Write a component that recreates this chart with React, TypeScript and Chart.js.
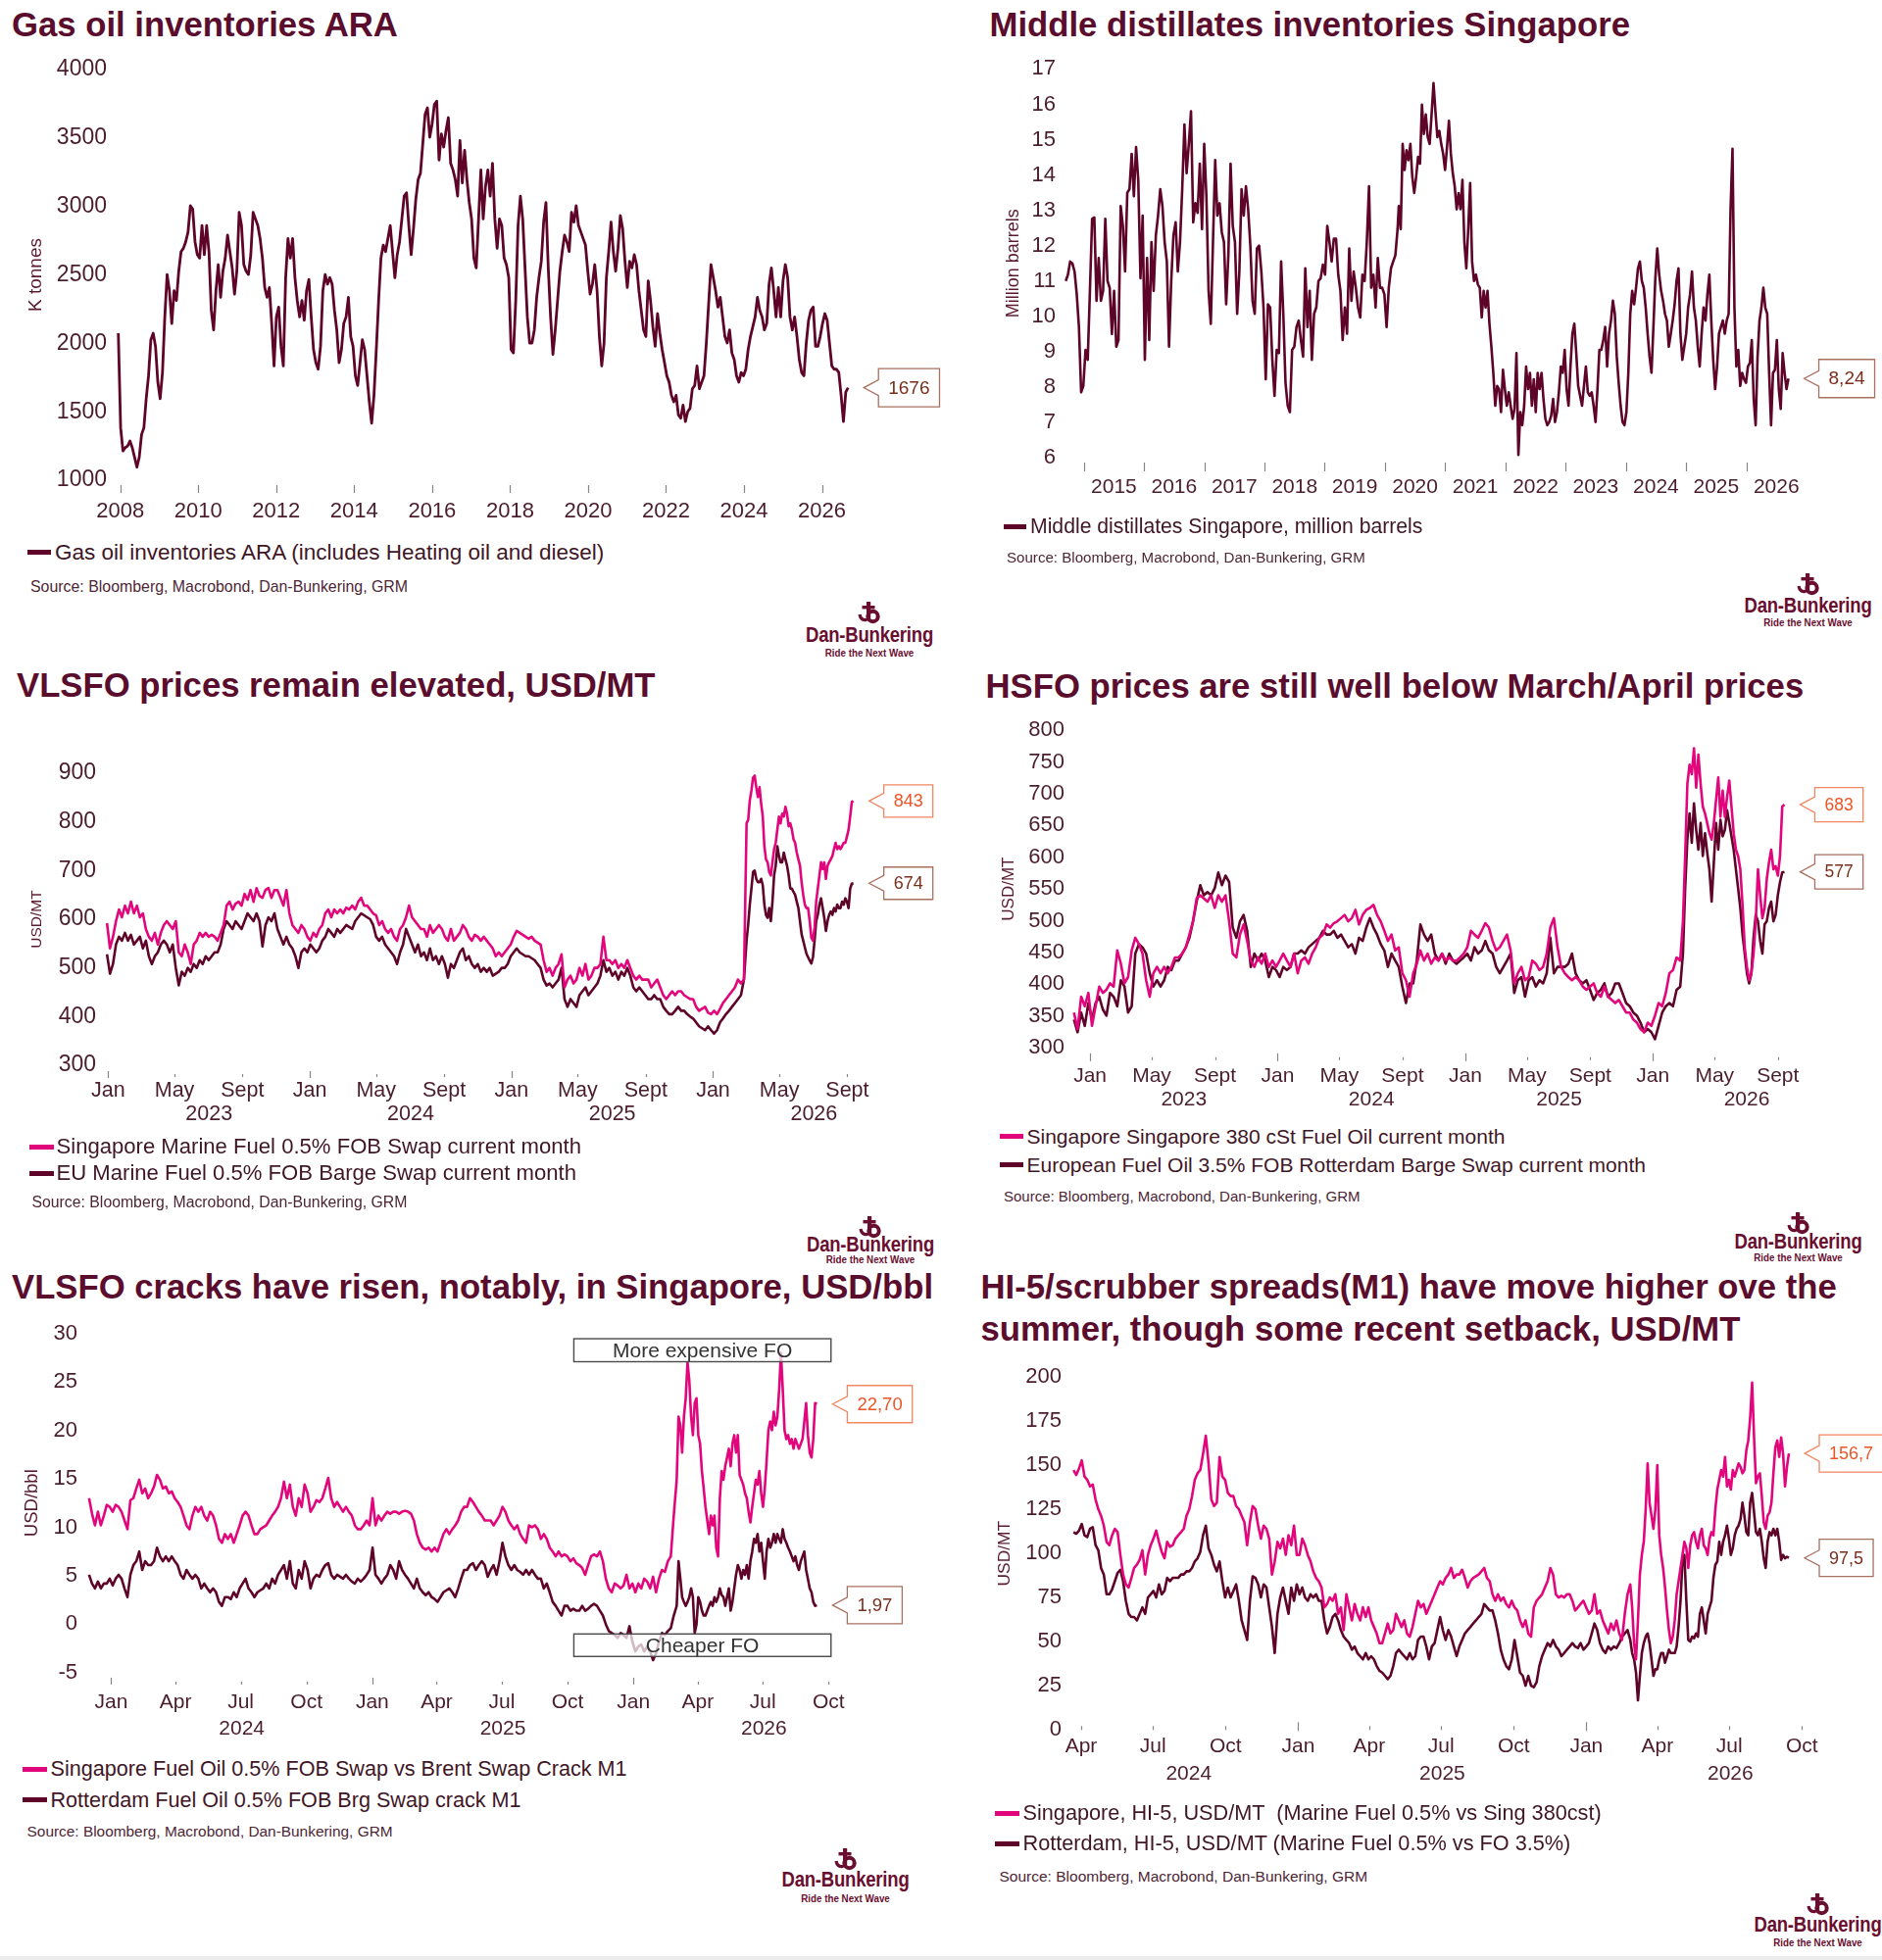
import React, { useEffect, useRef } from "react";
import { Chart, registerables } from "chart.js";

Chart.register(...registerables);

const FONT = "'Liberation Sans', Arial, Helvetica, sans-serif";
const MAROON = "#5e0428";
const PINK = "#e2067c";
const TITLE_C = "#5a0d2c";
const TICK_C = "#4a1d2d";
const AXIS_TITLE_C = "#5a1a30";
const LEGEND_C = "#3f1626";
const SOURCE_C = "#4d2635";
const LOGO_C = "#6a0e30";
const MARK_C = "#858585";
const LBL_MAROON = { text: "#7a2f1d", border: "#a9705f" };
const LBL_PINK = { text: "#ee5425", border: "#f28660" };

// ---------------- DATA ----------------
// Gas oil inventories ARA, K tonnes (2008 -> Sep 2026)
const araGasOil = [
  2074,1382,1214,1238,1250,1286,1238,1167,1095,1167,
  1334,1382,1596,1763,2026,2074,1978,1716,1596,1787,
  2193,2503,2384,2145,2384,2312,2527,2670,2694,2742,
  2814,3005,2981,2742,2647,2623,2861,2647,2861,2670,
  2241,2098,2384,2575,2336,2527,2623,2790,2670,2551,
  2360,2527,2957,2861,2575,2527,2503,2647,2957,2909,
  2861,2766,2623,2408,2336,2408,2145,1835,
  2193,2265,1978,1835,2480,2766,2623,2766,2480,2312,
  2193,2312,2169,2384,2467,2193,1954,1859,1811,1978,
  2384,2503,2432,2480,2432,2241,2098,1859,1954,2145,
  2193,2336,2050,1978,1763,1692,1859,2026,1954,1763,
  1572,1417,1620,1954,2312,2623,2718,2670,2766,2861,
  2670,2480,2647,2742,2909,3076,3100,2861,2647,2838,
  3052,3196,3243,3458,3673,3721,3506,3601,3745,3769,
  3339,3530,3434,3554,3649,3315,3267,3196,3076,3482,
  3172,3410,3196,3028,2909,2623,2551,2909,3267,2909,
  3148,3267,3076,3315,2909,2694,2909,2861,2623,2575,
  2480,1954,1930,2312,2861,3076,2909,2551,2193,2002,
  2002,2098,2336,2480,2599,2885,3028,2551,2193,1919,
  2098,2312,2527,2670,2790,2742,2670,2957,2885,3005,
  2861,2814,2766,2718,2527,2360,2432,2575,2384,2050,
  1835,2002,2480,2670,2885,2670,2527,2694,2933,2838,
  2599,2408,2599,2551,2647,2575,2384,2241,2098,2050,
  2456,2312,2121,1978,2217,2074,1954,1859,1763,1716,
  1620,1572,1620,1477,1453,1549,1429,1501,1525,1668,
  1692,1835,1668,1716,1763,2002,2289,2575,2480,2384,
  2265,2336,2193,2050,2002,2098,1930,1883,1763,1716,
  1787,1763,1811,1954,2050,2121,2193,2336,2241,2193,
  2098,2145,2432,2551,2384,2193,2408,2193,2456,2575,
  2480,2193,2098,2193,2050,1883,1787,1763,2002,2169,
  2241,2265,1978,1978,2050,2145,2217,2169,2002,1835,
  1811,1811,1787,1620,1429,1644,1676,
];
const araSpan = [2007.95, 2026.67];
const araYearTicks = [2008, 2010, 2012, 2014, 2016, 2018, 2020, 2022, 2024, 2026];
const araYTicks = [1000, 1500, 2000, 2500, 3000, 3500, 4000];

// Middle distillates Singapore, million barrels
const sgDistA = [
  11.0,11.18,11.55,11.5,11.27,10.63,9.7,7.85,8.03,9.05,
  8.77,10.72,12.76,12.8,10.44,11.65,10.44,10.72,12.76,11.0,
  10.8,9.5,10.72,9.14,9.33,13.12,12.56,11.27,13.5,13.6,
  14.6,13.4,14.79,13.86,11.08,12.85,8.77,11.65,9.33,12.1,
  10.72,12.29,12.85,13.6,13.12,12.1,11.55,9.14,11.0,12.29,
  12.66,11.27,12.1,13.6,15.43,14.05,14.88,15.8,12.66,13.2,
  12.93,14.32,12.47,14.88,13.4,10.72,9.79,12.1,14.42,12.85,
  13.2,12.38,12.1,10.34,11.73,14.32,12.56,12.1,10.07,11.27,
  13.6,12.85,13.68,13.03,12.0,10.44,10.07,11.92,12.0,11.27,
  10.25,8.22,10.34,10.25,8.77,7.75,9.05,8.96,11.55,10.07,
  8.12,7.47,7.29,9.05,9.14,9.7,9.88,9.33,8.86,11.36,
  9.7,10.72,8.77,10.07,10.25,11.0,11.08,11.46,11.18,12.56,
  12.1,11.55,12.2,12.2,11.18,10.72,9.33,10.25,9.51,11.92,
  10.44,11.27,10.81,10.25,9.97,11.18,11.0,12.1,13.68,10.81,
  11.18,10.25,11.65,10.81,10.81,10.62,9.7,10.81,11.36,11.55,
  11.73,12.47,
];
const sgDistASpan = [2014.70, 2020.21];
const sgDistB = [
  13.12,12.47,14.88,14.14,14.7,14.42,14.88,13.95,13.49,13.95,
  14.51,14.32,15.99,15.16,15.71,15.07,14.88,15.71,16.6,15.8,
  15.07,15.25,14.88,14.6,14.14,14.79,15.53,14.6,14.05,13.68,
  13.03,13.49,13.03,13.86,12.1,11.36,12.47,13.77,11.55,11.0,
  11.18,10.9,10.81,9.97,10.72,10.25,10.72,9.79,9.14,8.4,
  7.47,8.03,7.94,7.29,8.49,7.94,7.47,7.85,7.47,7.1,
  7.38,8.96,6.08,7.29,6.92,7.47,8.58,7.94,8.4,7.47,
  8.22,7.29,8.4,7.94,8.4,7.66,7.1,6.92,7.01,7.19,
  7.66,7.01,7.29,7.85,8.58,8.4,9.05,7.94,7.47,8.58,
  9.51,9.79,8.96,8.03,7.75,7.47,8.03,8.58,7.85,7.75,
  7.85,7.47,7.01,7.94,9.05,9.05,9.33,9.7,8.58,9.51,
  9.88,10.44,10.07,8.86,8.12,7.47,7.01,6.92,7.29,8.4,
  10.07,10.72,10.34,10.81,11.36,11.55,11.0,10.81,10.25,9.51,
  8.86,8.4,9.7,11.08,11.92,11.18,10.72,10.44,10.07,9.88,
  9.14,9.51,9.88,10.34,11.0,11.36,9.51,8.77,9.14,9.51,
  10.25,10.62,11.27,10.25,9.88,9.14,8.58,9.51,10.25,9.88,
  10.62,11.18,9.88,8.77,7.94,8.58,9.51,9.7,9.88,9.51,
  9.88,10.07,13.03,14.74,10.25,8.58,9.05,8.03,8.4,8.22,
  8.12,8.58,8.68,9.33,7.66,6.92,8.86,9.88,10.25,10.81,
  10.25,10.07,8.4,6.92,8.4,8.49,9.33,7.94,7.38,8.96,
  8.4,7.94,8.24,
];
const sgDistBSpan = [2020.23, 2026.70];
const sgYearBounds = [2015, 2016, 2017, 2018, 2019, 2020, 2021, 2022, 2023, 2024, 2025, 2026];
const sgYTicks = [6, 7, 8, 9, 10, 11, 12, 13, 14, 15, 16, 17];

// VLSFO prices USD/MT
const vlsfoSgA = [
  592,540,564,596,620,604,628,612,636,612,
  628,604,612,580,564,556,572,548,572,588,
  596,588,580,596,532,524,548,532,508,548,
  556,572,564,572,564,568,564,556,572,588,
  628,636,620,632,636,628,652,640,660,636,
  664,648,644,660,664,644,660,660,644,628,
  660,612,588,580,572,588,580,564,556,572,
  564,580,588,612,620,604,620,612,620,612,
  624,620,628,620,636,644,628,628,620,612,
  608,588,596,580,572,580,564,556,580,588,
  604,628,604,596,588,580,580,564,588,572,
  580,588,580,564,556,580,556,564,572,588,
  580,564,556,568,564,556,564,556,548,540,
  524,532,524,532,540,548,564,576,572,568,
  564,560,564,556,552,548,516,492,500,484,
  500,508,528,460,476,484,468,476,500,484,
  508,476,484,500,500,508,564,516,516,508,
  516,500,508,500,516,500,484,476,484,476,
  476,476,460,468,476,460,444,436,444,452,
  444,452,452,444,440,436,436,420,412,416,
  420,408,405,412,405,416,428,436,444,452,
  460,476,468,476,
];
const vlsfoSgB = [
  797,804,844,864,891,895,871,851,871,838,
  811,750,723,717,697,690,717,744,757,784,
  811,797,817,811,831,817,791,797,784,764,
  757,737,723,710,676,650,630,623,623,596,
  562,556,583,636,663,690,717,703,717,683,
  710,717,723,730,744,757,744,750,744,750,
  757,757,770,784,811,841,843,
];
const vlsfoEuA = [
  528,488,508,548,564,556,572,556,568,548,
  556,564,540,556,524,508,524,532,548,556,
  548,532,548,500,464,492,484,500,492,508,
  500,516,508,524,516,524,532,532,548,580,
  596,588,580,596,588,580,596,612,604,596,
  612,596,544,588,604,596,612,580,564,548,
  564,548,540,524,500,532,540,532,548,540,
  532,540,556,564,580,572,564,580,572,580,
  588,584,580,596,604,612,608,604,600,588,
  564,556,564,548,540,532,524,508,532,548,
  580,564,548,532,548,524,532,516,540,516,
  524,508,524,508,480,508,500,516,532,540,
  516,524,508,500,508,492,500,492,500,484,
  488,492,500,500,508,524,532,540,532,528,
  524,524,520,516,508,500,476,464,468,460,
  468,476,500,436,420,436,428,420,444,452,
  460,444,452,460,468,484,516,492,500,484,
  492,476,492,484,500,484,460,452,460,452,
  444,436,436,444,436,436,420,412,405,405,
  412,420,412,412,405,400,396,388,380,376,
  372,380,372,365,372,388,396,405,412,420,
  428,436,444,476,
];
const vlsfoEuB = [
  556,589,630,663,697,700,683,676,676,683,
  670,630,609,603,623,596,636,690,710,750,
  730,717,717,737,723,710,690,663,663,656,
  650,636,623,596,569,556,542,529,522,515,
  509,522,556,596,609,630,643,623,603,576,
  596,609,616,609,623,616,630,623,623,636,
  630,643,636,623,663,673,674,
];
const vlsfoSpanA = [2022.994, 2026.153];
const vlsfoSpanB = [2026.166, 2026.696];
const vlsfoYears = [2023, 2024, 2025, 2026];
const vlsfoMonths: [number, string][] = [[1, "Jan"], [5, "May"], [9, "Sept"]];
const vlsfoYTicks = [300, 400, 500, 600, 700, 800, 900];

// HSFO prices USD/MT
const hsfoSgA = [
  355,329,380,365,386,334,365,396,386,391,
  401,396,453,432,401,411,453,473,463,448,
  406,380,417,427,417,427,417,427,442,442,
  448,458,478,499,535,540,535,530,540,520,
  540,530,540,499,448,442,478,494,468,437,
  427,442,432,448,427,437,427,437,448,437,
  427,448,417,437,442,432,448,458,473,478,
  494,489,496,499,504,509,499,504,517,494,
  509,517,520,525,509,499,484,468,478,453,
  458,417,406,380,417,432,453,437,448,432,
  442,437,448,437,442,437,437,442,448,458,
  484,478,473,484,496,489,468,453,458,468,
  478,453,401,417,427,406,411,437,432,422,
  427,448,489,504,458,427,417,411,406,411,
  406,396,391,396,401,386,380,396,380,375,
  370,375,365,355,355,344,339,329,324,339,
  334,350,370,365,386,417,422,442,437,
];
const hsfoSgB = [
  499,602,716,746,731,772,710,762,716,680,
  669,654,638,628,654,690,726,664,705,664,
  695,721,680,638,612,602,581,525,458,427,
  406,417,448,499,581,540,504,520,566,592,
  612,581,586,571,602,680,683,
];
const hsfoEuA = [
  344,324,355,334,370,344,370,380,360,350,
  386,380,365,406,396,355,365,448,463,458,
  448,417,396,406,396,406,427,422,437,437,
  448,458,473,499,530,556,540,545,540,551,
  576,556,571,561,489,473,499,509,484,427,
  448,437,448,437,411,427,422,411,427,422,
  427,448,448,453,448,458,463,468,473,484,
  478,478,484,473,478,468,458,463,448,473,
  468,489,504,489,478,463,453,427,448,437,
  427,396,370,401,401,437,494,478,468,478,
  448,437,448,432,448,437,432,437,442,448,
  437,458,448,453,468,453,448,427,417,427,
  437,448,386,406,411,380,406,411,396,406,
  401,417,473,417,427,427,427,432,448,417,
  406,401,406,391,375,386,391,401,380,386,
  401,401,386,370,365,355,350,339,324,329,
  324,313,334,355,365,370,365,391,396,
];
const hsfoEuB = [
  448,551,628,669,623,685,643,612,654,602,
  638,607,581,530,592,654,612,659,633,643,
  674,654,633,612,581,551,520,478,448,417,
  401,417,473,509,499,468,448,494,499,520,
  530,499,509,540,561,576,577,
];
const hsfoSpanA = [2022.914, 2026.1455];
const hsfoSpanB = [2026.160, 2026.701];
const hsfoYTicks = [300, 350, 400, 450, 500, 550, 600, 650, 700, 750, 800];

// VLSFO cracks USD/bbl
const crackSgA = [
  13.0,11.4,10.2,11.6,10.2,11.2,12.3,12.1,11.6,12.3,
  12.1,11.6,10.7,9.8,12.8,13.0,14.0,14.9,13.5,14.0,
  13.0,13.5,14.2,15.4,14.9,14.0,14.2,13.5,13.7,13.0,
  12.6,12.1,11.2,10.2,9.8,11.2,12.1,11.6,12.1,11.2,
  10.7,11.6,11.2,10.2,8.8,8.4,9.3,8.8,9.3,8.4,
  9.3,10.2,11.2,11.6,11.2,10.2,9.3,9.3,9.8,10.0,
  10.2,10.7,11.2,11.6,12.1,13.0,14.7,13.0,14.4,12.1,
  11.2,13.0,12.1,14.4,13.5,11.6,12.1,12.8,12.6,13.0,
  14.0,15.1,13.0,12.1,12.6,12.1,11.6,12.1,11.6,11.2,
  10.2,9.8,9.8,10.2,10.7,10.2,13.0,10.2,11.2,10.7,
  11.2,11.6,11.4,11.6,11.6,11.4,11.6,11.7,11.6,11.4,
  10.7,9.3,8.4,7.9,7.7,7.9,7.5,7.9,7.5,8.4,
  9.3,9.8,9.3,9.8,10.2,10.7,11.6,12.1,12.1,13.0,
  12.6,12.1,11.6,11.2,10.7,10.7,10.7,10.2,10.7,11.2,
  12.1,11.6,10.7,10.2,9.8,10.2,9.3,8.8,8.4,10.2,
  10.0,10.2,9.8,8.8,9.3,8.8,7.9,7.5,7.0,7.5,
  7.0,7.2,7.0,6.5,6.8,6.3,6.1,5.8,5.1,6.1,
  7.0,7.2,7.0,7.5,6.5,4.7,3.7,3.3,4.2,4.0,
  3.7,4.0,5.1,3.7,4.2,3.3,4.2,3.7,4.7,4.4,
  3.7,4.9,3.3,4.7,5.6,5.4,6.5,7.0,11.2,14.9,
];
const crackSgB = [
  21.4,20.5,17.7,21.4,23.3,27.0,25.1,21.4,19.5,22.8,
  23.3,19.5,18.6,15.8,14.0,12.1,10.7,9.3,11.2,10.2,
  11.2,7.9,7.0,13.0,15.8,14.9,16.3,17.2,18.1,16.3,
  18.6,19.5,17.7,19.5,15.4,14.9,14.4,13.5,13.0,11.6,
  10.5,12.1,13.5,14.9,14.4,15.8,13.5,12.1,14.0,16.8,
  20.0,20.9,20.0,21.9,20.5,21.4,24.2,28.0,24.2,20.0,
  19.1,19.5,18.6,19.1,18.1,19.1,18.6,18.1,18.6,19.1,
  20.9,22.8,19.5,17.7,17.2,19.1,22.8,22.7,
];
const crackRtA = [
  5.1,4.2,3.7,4.4,3.7,4.2,4.2,4.7,4.0,4.7,
  5.1,4.7,3.7,2.8,5.1,6.1,6.5,7.5,5.6,6.5,
  6.1,6.1,6.5,7.9,7.0,6.5,7.0,6.5,7.0,6.5,
  6.1,5.1,4.7,5.6,5.1,4.7,5.1,4.7,3.7,4.2,
  3.7,3.3,3.7,3.3,2.3,1.9,2.8,2.8,2.6,3.3,
  2.8,3.7,4.2,4.7,3.7,3.3,2.8,3.3,3.5,3.7,
  4.2,3.7,4.7,4.2,5.1,5.6,6.1,4.7,6.5,4.2,
  3.7,5.6,4.7,6.5,5.6,3.7,4.7,5.1,4.9,5.6,
  6.1,6.3,5.1,4.7,5.1,4.9,4.7,5.1,4.7,4.4,
  4.2,4.7,4.4,4.7,5.1,5.6,7.9,5.1,4.7,4.2,
  4.7,5.1,6.1,5.6,4.7,6.5,5.6,5.1,4.7,4.2,
  3.7,4.7,3.7,3.3,3.0,3.3,2.8,2.6,2.3,2.8,
  3.3,3.5,3.7,3.3,2.8,3.7,4.7,5.6,5.6,6.1,
  6.3,5.6,6.1,6.5,6.1,4.9,5.6,6.1,5.1,6.5,
  8.4,7.0,6.1,5.6,6.1,5.6,5.4,5.1,5.6,5.1,
  5.6,5.1,4.7,4.7,3.7,4.2,3.3,2.3,1.9,1.4,
  0.9,1.9,1.9,1.4,1.6,1.4,1.4,1.9,1.4,1.6,
  1.9,2.1,1.9,1.4,0.9,0.0,-0.7,-0.9,-1.1,-1.4,
  -0.9,-1.1,-1.4,-0.2,-1.8,-2.8,-2.3,-2.1,-2.8,-2.3,
  -2.8,-3.7,-3.0,-1.8,-0.9,-1.1,-0.7,-0.4,0.9,1.9,
];
const crackRtB = [
  6.5,4.7,2.8,2.3,1.9,2.3,2.8,3.7,2.8,-0.9,
  0.0,2.8,2.3,1.4,0.9,0.9,1.4,1.9,2.3,1.9,
  2.8,2.3,2.8,3.7,3.0,2.8,1.9,2.8,3.7,1.4,
  2.3,3.7,5.1,6.1,5.6,4.7,5.6,5.1,6.1,4.7,
  6.5,7.5,8.8,8.4,9.3,7.5,8.4,6.5,4.7,7.5,
  8.8,7.9,8.4,9.3,8.4,9.3,8.8,8.4,9.8,8.8,
  8.4,7.9,7.5,7.0,6.5,7.0,6.1,5.6,6.5,7.0,
  7.5,5.6,4.7,3.7,3.3,2.3,1.9,1.97,
];
const crackSpanA = [2023.915, 2026.166];
const crackSpanB = [2026.173, 2026.703];
const crackYears = [2024, 2025, 2026];
const crackMonths: [number, string][] = [[1, "Jan"], [4, "Apr"], [7, "Jul"], [10, "Oct"]];
const crackYTicks = [-5, 0, 5, 10, 15, 20, 25, 30];
const crackBoxes = [
  { x0: 2025.772, x1: 2026.757, y0: 29.44, y1: 27.07, text: "More expensive FO" },
  { x0: 2025.772, x1: 2026.757, y0: -1.0, y1: -3.32, text: "Cheaper FO" },
];

// HI-5 spreads USD/MT
const hi5SgA = [
  147.3,144.5,148.2,152.8,143.6,141.7,138.0,139.0,130.6,125.1,
  121.4,115.8,106.6,104.7,110.3,114.0,112.1,99.2,88.1,82.5,
  80.7,86.2,91.8,93.6,96.4,101.9,88.1,99.2,104.7,108.4,
  113.0,106.6,101.0,97.3,106.6,103.8,104.7,108.4,110.3,112.1,
  114.0,121.4,125.1,132.5,141.7,145.4,147.3,156.5,166.7,151.0,
  130.6,126.9,128.8,154.7,143.6,141.7,134.3,132.5,132.5,126.9,
  125.1,121.4,117.7,104.7,117.7,126.9,125.1,115.8,108.4,115.8,
  114.0,108.4,88.1,95.5,106.6,102.9,108.4,99.2,110.3,104.7,
  115.8,99.2,99.2,108.4,104.7,99.2,95.5,89.9,86.2,84.3,
  80.7,69.5,71.4,75.1,73.2,76.9,65.8,69.5,56.6,76.9,
  69.5,62.1,71.4,65.8,62.1,69.5,64.0,69.5,62.1,58.4,
  54.7,49.2,49.2,54.7,60.3,54.7,56.6,65.8,62.1,58.4,
  62.1,54.7,52.9,58.4,65.8,73.2,69.5,71.4,65.8,69.5,
  73.2,76.9,80.7,84.3,82.5,86.2,88.1,91.8,86.2,88.1,
  88.1,90.8,86.2,80.7,84.3,86.2,87.1,88.1,89.9,91.8,
  86.2,84.3,76.9,73.2,76.9,73.2,75.1,71.4,69.5,73.2,
  69.5,67.7,62.1,58.4,62.1,54.7,52.9,69.5,73.2,75.1,
  76.9,80.7,84.3,91.8,88.1,76.9,75.1,76.0,75.1,76.9,
  76.9,73.2,67.7,69.5,71.4,73.2,69.5,65.8,67.7,76.9,
  65.8,67.7,62.1,58.4,54.7,60.3,56.6,62.1,54.7,51.0,
  65.8,76.9,82.5,
];
const hi5SgB = [
  69.5,49.2,40.0,62.1,88.1,99.2,106.6,125.1,151.0,128.8,
  121.4,114.0,125.1,150.1,110.3,99.2,91.8,80.7,67.7,56.6,
  49.2,52.9,62.1,76.9,84.3,91.8,99.2,106.6,102.9,91.8,
  104.7,110.3,112.1,106.6,102.9,110.3,114.0,104.7,102.9,99.2,
  108.4,112.1,110.3,125.1,136.2,141.7,147.3,143.6,154.7,138.0,
  141.7,136.2,147.3,143.6,147.3,151.0,149.1,145.4,147.3,158.4,
  164.0,176.9,196.9,165.8,139.9,143.6,145.4,132.5,117.7,114.0,
  121.4,123.2,128.8,145.4,160.2,164.0,154.7,165.8,156.5,138.0,
  149.1,156.7,
];
const hi5RtA = [
  112.1,111.2,113.0,116.7,110.3,109.3,114.0,114.9,104.7,101.9,
  91.8,88.1,76.9,76.9,79.7,84.3,89.0,90.8,84.3,73.2,
  65.8,64.0,64.0,62.1,65.8,69.5,65.8,75.1,76.9,78.8,
  75.1,82.5,76.9,78.8,86.2,84.3,86.2,86.2,86.2,88.1,
  88.1,89.9,89.9,91.8,95.5,97.3,101.0,110.3,115.8,102.9,
  99.2,93.6,89.9,95.5,84.3,75.1,80.7,75.1,78.8,82.5,
  73.2,62.1,56.6,51.0,73.2,87.1,86.2,82.5,75.1,82.5,
  80.7,69.5,58.4,43.6,65.8,75.1,80.7,73.2,65.8,80.7,
  73.2,82.5,76.9,80.7,75.1,73.2,76.9,75.1,76.9,73.2,
  73.2,62.1,54.7,58.4,64.0,65.8,62.1,56.6,52.9,51.0,
  49.2,45.5,47.3,43.6,41.8,40.0,43.6,40.0,41.8,40.0,
  36.2,33.5,32.5,30.7,28.8,30.7,36.2,43.6,45.5,43.6,
  41.8,40.0,43.6,40.0,41.8,51.0,52.9,52.9,47.3,40.0,
  47.3,49.2,56.6,64.0,56.6,51.0,56.6,52.9,47.3,41.8,
  47.3,51.0,54.7,56.6,58.4,60.3,62.1,64.0,65.8,71.4,
  69.5,67.7,67.7,62.1,54.7,45.5,40.0,36.2,34.4,40.0,
  51.0,41.8,32.5,30.7,25.1,30.7,25.1,24.2,27.0,36.2,
  41.8,45.5,49.2,47.3,51.0,47.3,45.5,41.8,43.6,45.5,
  47.3,49.2,47.3,46.4,49.2,45.5,47.3,49.2,54.7,60.3,
  56.6,49.2,45.5,43.6,47.3,45.5,47.3,46.4,49.2,52.9,
  54.7,56.6,51.0,
];
const hi5RtB = [
  43.6,40.0,32.5,16.8,30.7,43.6,49.2,52.9,54.7,49.2,
  40.0,30.7,34.4,34.4,40.0,43.6,43.6,38.1,41.8,45.5,
  43.6,43.6,43.6,47.3,58.4,73.2,95.5,99.2,73.2,51.0,
  50.1,52.9,52.0,54.7,52.9,65.8,69.5,62.1,54.7,65.8,
  69.5,73.2,86.2,93.6,95.5,106.6,99.2,106.6,110.3,115.8,
  108.4,99.2,102.9,110.3,114.0,115.8,119.5,128.8,121.4,112.1,
  110.3,128.8,134.3,123.2,112.1,110.3,114.0,106.6,97.3,91.8,
  106.6,112.1,110.3,114.0,110.3,114.0,106.6,96.4,99.2,97.3,
  98.1,97.5,
];
const hi5SpanA = [2024.220, 2026.1525];
const hi5SpanB = [2026.159, 2026.703];
const hi5MonthTicks: [number, number, string][] = [
  [2024, 4, "Apr"], [2024, 7, "Jul"], [2024, 10, "Oct"],
  [2025, 1, "Jan"], [2025, 4, "Apr"], [2025, 7, "Jul"], [2025, 10, "Oct"],
  [2026, 1, "Jan"], [2026, 4, "Apr"], [2026, 7, "Jul"], [2026, 10, "Oct"],
];
const hi5YearLabels: [number, string][] = [[2024.62, "2024"], [2025.5, "2025"], [2026.5, "2026"]];
const hi5YTicks = [0, 25, 50, 75, 100, 125, 150, 175, 200];

// ---------------- HELPERS ----------------
const CUM = [0, 31, 59, 90, 120, 151, 181, 212, 243, 273, 304, 334];
const md = (y: number, m: number) => y + CUM[m - 1] / 365;

type Pt = { x: number; y: number };
function seg(values: number[], span: number[]): Pt[] {
  const n = values.length;
  const [a, b] = span;
  return values.map((y, i) => ({ x: a + ((b - a) * i) / Math.max(1, n - 1), y }));
}
const fmt = (v: number, d: number) => v.toFixed(d).replace(".", ",");

type XTick = { v: number; label: string | string[] };
type Mark = { v: number; major: boolean };

function drawEndLabel(ctx: CanvasRenderingContext2D, x: number, y: number, text: string, font: number, h: number, col: { text: string; border: string }) {
  ctx.save();
  ctx.font = `${font}px ${FONT}`;
  const tw = ctx.measureText(text).width;
  const tip = x + 16;
  const bl = tip + 15;
  const w = tw + 20;
  const ah = 8;
  const top = y - h / 2;
  const bot = y + h / 2;
  const right = bl + w;
  ctx.beginPath();
  ctx.moveTo(bl, y - ah);
  ctx.lineTo(bl, top);
  ctx.lineTo(right, top);
  ctx.lineTo(right, bot);
  ctx.lineTo(bl, bot);
  ctx.lineTo(bl, y + ah);
  ctx.lineTo(tip, y);
  ctx.closePath();
  ctx.fillStyle = "#ffffff";
  ctx.fill();
  ctx.lineWidth = 1.3;
  ctx.strokeStyle = col.border;
  ctx.stroke();
  ctx.fillStyle = col.text;
  ctx.textAlign = "center";
  ctx.textBaseline = "middle";
  ctx.fillText(text, bl + w / 2, y + 1);
  ctx.restore();
}

function LineChart({ cfg }: { cfg: any }) {
  const ref = useRef<HTMLCanvasElement | null>(null);
  useEffect(() => {
    const canvas = ref.current;
    if (!canvas) return;
    const yAxisW = cfg.plotLeft - cfg.left;
    const padTop = cfg.plotTop - cfg.top;
    const padRight = cfg.left + cfg.width - cfg.plotRight;
    const xAxisH = cfg.top + cfg.height - cfg.plotBottom;
    const xt: XTick[] = [...cfg.xTicks].sort((a: XTick, b: XTick) => a.v - b.v);
    const extras = {
      id: "extras",
      afterDraw(chart: any) {
        const ctx = chart.ctx as CanvasRenderingContext2D;
        const xs = chart.scales.x;
        const ys = chart.scales.y;
        const area = chart.chartArea;
        ctx.save();
        ctx.strokeStyle = MARK_C;
        ctx.lineWidth = 1.2;
        for (const m of cfg.marks as Mark[]) {
          const px = Math.round(xs.getPixelForValue(m.v)) + 0.5;
          const y0 = area.bottom + (m.major ? cfg.markOff : cfg.minorOff);
          const len = m.major ? cfg.majorLen : cfg.minorLen;
          ctx.beginPath();
          ctx.moveTo(px, y0);
          ctx.lineTo(px, y0 + len);
          ctx.stroke();
        }
        ctx.restore();
        if (cfg.boxes) {
          for (const b of cfg.boxes) {
            const x0 = xs.getPixelForValue(b.x0);
            const x1 = xs.getPixelForValue(b.x1);
            const y0 = ys.getPixelForValue(b.y0);
            const y1 = ys.getPixelForValue(b.y1);
            ctx.save();
            ctx.fillStyle = "rgba(255,255,255,0.72)";
            ctx.fillRect(x0, y0, x1 - x0, y1 - y0);
            ctx.strokeStyle = "#4a4a4a";
            ctx.lineWidth = 1.4;
            ctx.strokeRect(x0, y0, x1 - x0, y1 - y0);
            ctx.fillStyle = "#333333";
            ctx.font = `${cfg.boxFont}px ${FONT}`;
            ctx.textAlign = "center";
            ctx.textBaseline = "middle";
            ctx.fillText(b.text, (x0 + x1) / 2, (y0 + y1) / 2 + 1);
            ctx.restore();
          }
        }
        cfg.series.forEach((s: any, i: number) => {
          const meta = chart.getDatasetMeta(i);
          const pt = meta.data[meta.data.length - 1];
          if (!pt) return;
          const last = s.data[s.data.length - 1].y;
          drawEndLabel(ctx, pt.x, pt.y, fmt(last, s.digits), cfg.endFont, cfg.endH, s.lbl);
        });
      },
    };
    const chart = new Chart(canvas, {
      type: "line",
      data: {
        datasets: cfg.series.map((s: any) => ({
          label: s.label,
          data: s.data,
          borderColor: s.color,
          backgroundColor: s.color,
          borderWidth: cfg.lineWidth,
          pointRadius: 0,
          pointHoverRadius: 0,
          tension: 0,
          fill: false,
          clip: false,
          borderJoinStyle: "round",
        })),
      },
      options: {
        responsive: false,
        animation: false,
        events: [],
        layout: { padding: { top: padTop, right: padRight, left: 0, bottom: 0 } },
        plugins: { legend: { display: false }, tooltip: { enabled: false }, title: { display: false } },
        scales: {
          x: {
            type: "linear",
            position: "bottom",
            min: cfg.xMin,
            max: cfg.xMax,
            grid: { display: false, drawTicks: false },
            border: { display: false },
            afterBuildTicks: (s: any) => {
              s.ticks = xt.map((t) => ({ value: t.v }));
            },
            afterFit: (s: any) => {
              s.height = xAxisH;
            },
            ticks: {
              autoSkip: false,
              maxRotation: 0,
              minRotation: 0,
              padding: cfg.xPad,
              color: TICK_C,
              font: { family: FONT, size: cfg.xFont, lineHeight: cfg.xLineH },
              callback: (_v: any, i: number) => (xt[i] ? xt[i].label : ""),
            },
          },
          y: {
            type: "linear",
            min: cfg.yMin,
            max: cfg.yMax,
            grid: { display: false, drawTicks: false },
            border: { display: false },
            afterBuildTicks: (s: any) => {
              s.ticks = cfg.yTicks.map((v: number) => ({ value: v }));
            },
            afterFit: (s: any) => {
              s.width = yAxisW;
            },
            ticks: {
              padding: cfg.yPad,
              color: TICK_C,
              font: { family: FONT, size: cfg.yFont },
              callback: (v: any) => String(v),
            },
            title: {
              display: true,
              text: cfg.yTitle,
              color: AXIS_TITLE_C,
              font: { family: FONT, size: cfg.yTitleFont, lineHeight: 1.2 },
              padding: { top: cfg.yTitlePad, bottom: 0 },
            },
          },
        },
      } as any,
      plugins: [extras],
    } as any);
    return () => chart.destroy();
  }, [cfg]);
  return (
    <canvas
      ref={ref}
      width={cfg.width}
      height={cfg.height}
      style={{ position: "absolute", left: cfg.left, top: cfg.top, width: cfg.width, height: cfg.height }}
    />
  );
}

// ---------------- CHART CONFIGS ----------------
const monthTicks = (years: number[], months: [number, string][]): XTick[] =>
  years.flatMap((y) => months.map(([m, l]) => ({ v: md(y, m), label: l })));
const monthMarks = (years: number[], months: [number, string][]): Mark[] =>
  years.flatMap((y) => months.map(([m]) => ({ v: md(y, m), major: m === 1 })));
const yearMid = (years: number[]): XTick[] => years.map((y) => ({ v: y + 0.5, label: ["", String(y)] }));

const cfgAra = {
  left: 0, top: 50, width: 960, height: 500,
  plotLeft: 115, plotTop: 71, plotRight: 880, plotBottom: 490,
  xMin: 2007.8064, xMax: 2027.0418, yMin: 1000, yMax: 4000, yTicks: araYTicks,
  yFont: 23, yPad: 6, yTitle: "K tonnes", yTitleFont: 19, yTitlePad: 25.6,
  xTicks: araYearTicks.map((y) => ({ v: y, label: String(y) })), xFont: 22, xLineH: 1.2, xPad: 19,
  marks: araYearTicks.map((y) => ({ v: y, major: true })), markOff: 5, majorLen: 8, minorOff: 5, minorLen: 8,
  lineWidth: 2.8, endFont: 19, endH: 39,
  series: [{ label: "Gas oil inventories ARA", data: seg(araGasOil, araSpan), color: MAROON, digits: 0, lbl: LBL_MAROON }],
};

const cfgSg = {
  left: 960, top: 50, width: 960, height: 500,
  plotLeft: 1083, plotTop: 70.4, plotRight: 1840, plotBottom: 467,
  xMin: 2014.6305, xMax: 2026.9515, yMin: 6, yMax: 17, yTicks: sgYTicks,
  yFont: 22, yPad: 6, yTitle: "Million barrels", yTitleFont: 18, yTitlePad: 63.2,
  xTicks: sgYearBounds.map((y) => ({ v: y + 0.5, label: String(y) })), xFont: 21, xLineH: 1.2, xPad: 17.4,
  marks: sgYearBounds.map((y) => ({ v: y, major: true })), markOff: 5, majorLen: 9, minorOff: 5, minorLen: 9,
  lineWidth: 2.6, endFont: 19, endH: 39,
  series: [{ label: "Middle distillates Singapore", data: [...seg(sgDistA, sgDistASpan), ...seg(sgDistB, sgDistBSpan)], color: MAROON, digits: 2, lbl: LBL_MAROON }],
};

const cfgVlsfo = {
  left: 0, top: 740, width: 960, height: 420,
  plotLeft: 104, plotTop: 789, plotRight: 880, plotBottom: 1087,
  xMin: 2022.9689, xMax: 2026.7414, yMin: 300, yMax: 900, yTicks: vlsfoYTicks,
  yFont: 23, yPad: 6, yTitle: "USD/MT", yTitleFont: 15.5, yTitlePad: 28.7,
  xTicks: [...monthTicks(vlsfoYears, vlsfoMonths), ...yearMid(vlsfoYears)], xFont: 21.5, xLineH: 1.14, xPad: 13.75,
  marks: monthMarks(vlsfoYears, vlsfoMonths), markOff: 6, majorLen: 7, minorOff: 9, minorLen: 3,
  lineWidth: 2.6, endFont: 18, endH: 33,
  series: [
    { label: "Singapore", data: [...seg(vlsfoSgA, vlsfoSpanA), ...seg(vlsfoSgB, vlsfoSpanB)], color: PINK, digits: 0, lbl: LBL_PINK },
    { label: "EU", data: [...seg(vlsfoEuA, vlsfoSpanA), ...seg(vlsfoEuB, vlsfoSpanB)], color: MAROON, digits: 0, lbl: LBL_MAROON },
  ],
};

const cfgHsfo = {
  left: 960, top: 700, width: 960, height: 440,
  plotLeft: 1092, plotTop: 745.4, plotRight: 1840, plotBottom: 1068.8,
  xMin: 2022.895, xMax: 2026.803, yMin: 300, yMax: 800, yTicks: hsfoYTicks,
  yFont: 22, yPad: 6, yTitle: "USD/MT", yTitleFont: 17, yTitlePad: 58.8,
  xTicks: [...monthTicks(vlsfoYears, vlsfoMonths), ...yearMid(vlsfoYears)], xFont: 21, xLineH: 1.143, xPad: 17.2,
  marks: monthMarks(vlsfoYears, vlsfoMonths), markOff: 6, majorLen: 8, minorOff: 10, minorLen: 3,
  lineWidth: 2.6, endFont: 17.5, endH: 35,
  series: [
    { label: "Singapore 380", data: [...seg(hsfoSgA, hsfoSpanA), ...seg(hsfoSgB, hsfoSpanB)], color: PINK, digits: 0, lbl: LBL_PINK },
    { label: "Rotterdam 3.5%", data: [...seg(hsfoEuA, hsfoSpanA), ...seg(hsfoEuB, hsfoSpanB)], color: MAROON, digits: 0, lbl: LBL_MAROON },
  ],
};

const cfgCrack = {
  left: 0, top: 1340, width: 960, height: 440,
  plotLeft: 85, plotTop: 1360.5, plotRight: 880, plotBottom: 1706.9,
  xMin: 2023.893, xMax: 2026.878, yMin: -5, yMax: 30, yTicks: crackYTicks,
  yFont: 22, yPad: 6, yTitle: "USD/bbl", yTitleFont: 18.5, yTitlePad: 21.9,
  xTicks: [...monthTicks(crackYears, crackMonths), ...yearMid(crackYears)], xFont: 21, xLineH: 1.314, xPad: 16.1,
  marks: monthMarks(crackYears, crackMonths), markOff: 5, majorLen: 7, minorOff: 9, minorLen: 3,
  lineWidth: 2.6, endFont: 18.5, endH: 38,
  boxes: crackBoxes, boxFont: 21,
  series: [
    { label: "Singapore crack", data: [...seg(crackSgA, crackSpanA), ...seg(crackSgB, crackSpanB)], color: PINK, digits: 2, lbl: LBL_PINK },
    { label: "Rotterdam crack", data: [...seg(crackRtA, crackSpanA), ...seg(crackRtB, crackSpanB)], color: MAROON, digits: 2, lbl: LBL_MAROON },
  ],
};

const cfgHi5 = {
  left: 960, top: 1385, width: 960, height: 455,
  plotLeft: 1089, plotTop: 1405.1, plotRight: 1840, plotBottom: 1765.3,
  xMin: 2024.199, xMax: 2026.754, yMin: 0, yMax: 200, yTicks: hi5YTicks,
  yFont: 22, yPad: 6, yTitle: "USD/MT", yTitleFont: 17.4, yTitlePad: 54.6,
  xTicks: [
    ...hi5MonthTicks.map(([y, m, l]) => ({ v: md(y, m), label: l })),
    ...hi5YearLabels.map(([v, l]) => ({ v, label: ["", l] })),
  ],
  xFont: 21, xLineH: 1.32, xPad: 3.15,
  marks: hi5MonthTicks.map(([y, m]) => ({ v: md(y, m), major: m === 1 })), markOff: -8, majorLen: 9, minorOff: -4, minorLen: 4,
  lineWidth: 2.6, endFont: 18, endH: 38,
  series: [
    { label: "Singapore HI-5", data: [...seg(hi5SgA, hi5SpanA), ...seg(hi5SgB, hi5SpanB)], color: PINK, digits: 1, lbl: LBL_PINK },
    { label: "Rotterdam HI-5", data: [...seg(hi5RtA, hi5SpanA), ...seg(hi5RtB, hi5SpanB)], color: MAROON, digits: 1, lbl: LBL_MAROON },
  ],
};

// ---------------- STATIC TEXT PIECES ----------------
function Title({ left, top, lines, size = 34.7, lh }: { left: number; top: number; lines: string[]; size?: number; lh?: number }) {
  return (
    <div
      style={{
        position: "absolute", left, top, fontSize: size, lineHeight: `${lh || size}px`, fontWeight: 700,
        color: TITLE_C, whiteSpace: "nowrap", fontFamily: FONT,
      }}
    >
      {lines.map((l, i) => (
        <div key={i}>{l}</div>
      ))}
    </div>
  );
}

function LegendItem({ mx, mw, tx, cy, font, color, text }: any) {
  return (
    <>
      <div style={{ position: "absolute", left: mx, top: cy - 2.5, width: mw, height: 5, background: color }} />
      <div
        style={{
          position: "absolute", left: tx, top: cy - 0.59 * font, fontSize: font, lineHeight: `${1.2 * font}px`,
          color: LEGEND_C, whiteSpace: "pre", fontFamily: FONT,
        }}
      >
        {text}
      </div>
    </>
  );
}

function Source({ left, cy, font }: { left: number; cy: number; font: number }) {
  return (
    <div
      style={{
        position: "absolute", left, top: cy - 0.59 * font, fontSize: font, lineHeight: `${1.2 * font}px`,
        color: SOURCE_C, whiteSpace: "nowrap", fontFamily: FONT,
      }}
    >
      Source: Bloomberg, Macrobond, Dan-Bunkering, GRM
    </div>
  );
}

function Logo({ cx, symTop, nameY, tagY }: { cx: number; symTop: number; nameY: number; tagY: number }) {
  return (
    <>
      <svg style={{ position: "absolute", left: cx - 13, top: symTop }} width={26} height={23} viewBox="0 0 26 23">
        <rect x="10" y="0" width="4.2" height="19" fill={LOGO_C} />
        <rect x="5.5" y="4" width="13" height="3.4" fill={LOGO_C} />
        <circle cx="16.5" cy="15" r="5.2" fill="none" stroke={LOGO_C} strokeWidth="4" />
        <path d="M10.5 18.5 Q4 19.5 3 13" fill="none" stroke={LOGO_C} strokeWidth="3.2" />
      </svg>
      <div
        style={{
          position: "absolute", left: cx - 80, width: 160, top: nameY - 11, height: 22, lineHeight: "22px",
          textAlign: "center", fontWeight: 700, fontSize: 18.5, color: LOGO_C, fontFamily: FONT,
          transform: "scaleY(1.15)", letterSpacing: -0.2,
        }}
      >
        Dan-Bunkering
      </div>
      <div
        style={{
          position: "absolute", left: cx - 70, width: 140, top: tagY - 6, height: 12, lineHeight: "12px",
          textAlign: "center", fontWeight: 700, fontSize: 9.8, color: LOGO_C, fontFamily: FONT,
          transform: "scaleY(1.15)",
        }}
      >
        Ride the Next Wave
      </div>
    </>
  );
}

export default function App() {
  return (
    <div
      style={{
        position: "absolute", left: 0, top: 0, width: 1920, height: 2000, background: "#ffffff",
        fontFamily: FONT, overflow: "hidden",
      }}
    >
      {/* Panel 1 */}
      <Title left={12} top={7.5} lines={["Gas oil inventories ARA"]} />
      <LineChart cfg={cfgAra} />
      <LegendItem mx={28} mw={24} tx={56} cy={563} font={22.5} color={MAROON} text="Gas oil inventories ARA (includes Heating oil and diesel)" />
      <Source left={31} cy={598} font={15.9} />
      <Logo cx={887} symTop={614} nameY={648} tagY={667} />

      {/* Panel 2 */}
      <Title left={1009.5} top={7.5} lines={["Middle distillates inventories Singapore"]} />
      <LineChart cfg={cfgSg} />
      <LegendItem mx={1024} mw={23} tx={1051} cy={537} font={21.2} color={MAROON} text="Middle distillates Singapore, million barrels" />
      <Source left={1027} cy={569} font={15.1} />
      <Logo cx={1844.5} symTop={585} nameY={617.5} tagY={636} />

      {/* Panel 3 */}
      <Title left={17} top={682.2} lines={["VLSFO prices remain elevated, USD/MT"]} />
      <LineChart cfg={cfgVlsfo} />
      <LegendItem mx={29.5} mw={25} tx={57.5} cy={1170.5} font={22.1} color={PINK} text="Singapore Marine Fuel 0.5% FOB Swap current month" />
      <LegendItem mx={29.5} mw={25} tx={57.5} cy={1197.5} font={22.1} color={MAROON} text="EU Marine Fuel 0.5% FOB Barge Swap current month" />
      <Source left={32.5} cy={1227} font={15.8} />
      <Logo cx={888} symTop={1241} nameY={1270} tagY={1286} />

      {/* Panel 4 */}
      <Title left={1005.5} top={683.4} lines={["HSFO prices are still well below March/April prices"]} />
      <LineChart cfg={cfgHsfo} />
      <LegendItem mx={1019.5} mw={24} tx={1047.5} cy={1159.5} font={21} color={PINK} text="Singapore Singapore 380 cSt Fuel Oil current month" />
      <LegendItem mx={1019.5} mw={24} tx={1047.5} cy={1188.5} font={21} color={MAROON} text="European Fuel Oil 3.5% FOB Rotterdam Barge Swap current month" />
      <Source left={1024} cy={1221} font={15} />
      <Logo cx={1834.5} symTop={1237} nameY={1267} tagY={1284} />

      {/* Panel 5 */}
      <Title left={12} top={1296.2} lines={["VLSFO cracks have risen, notably, in Singapore, USD/bbl"]} />
      <LineChart cfg={cfgCrack} />
      <LegendItem mx={23} mw={25} tx={51.5} cy={1805} font={21.6} color={PINK} text="Singapore Fuel Oil 0.5% FOB Swap vs Brent Swap Crack M1" />
      <LegendItem mx={23} mw={25} tx={51.5} cy={1836.3} font={21.6} color={MAROON} text="Rotterdam Fuel Oil 0.5% FOB Brg Swap crack M1" />
      <Source left={27.6} cy={1869.5} font={15.4} />
      <Logo cx={862.5} symTop={1886} nameY={1918} tagY={1938} />

      {/* Panel 6 */}
      <Title
        left={1000.5}
        top={1291.8}
        lh={43.5}
        lines={["HI-5/scrubber spreads(M1) have move higher ove the", "summer, though some recent setback, USD/MT"]}
      />
      <LineChart cfg={cfgHi5} />
      <LegendItem mx={1015} mw={25} tx={1043.5} cy={1850} font={21.7} color={PINK} text="Singapore, HI-5, USD/MT  (Marine Fuel 0.5% vs Sing 380cst)" />
      <LegendItem mx={1015} mw={25} tx={1043.5} cy={1881.3} font={21.7} color={MAROON} text="Rotterdam, HI-5, USD/MT (Marine Fuel 0.5% vs FO 3.5%)" />
      <Source left={1019.5} cy={1915.2} font={15.5} />
      <Logo cx={1854.5} symTop={1932} nameY={1964} tagY={1983} />

      <div style={{ position: "absolute", left: 0, top: 1996, width: 1920, height: 4, background: "#ececec" }} />
    </div>
  );
}
